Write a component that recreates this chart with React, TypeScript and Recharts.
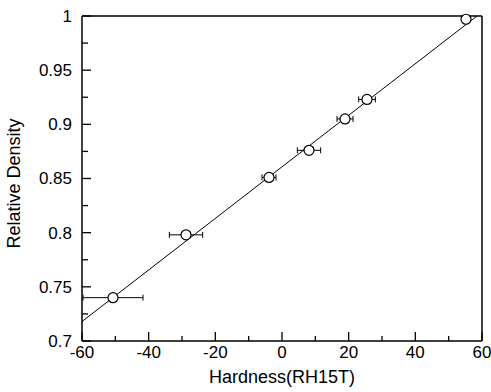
import React from 'react';
import { ComposedChart, Scatter, Line, XAxis, YAxis, ErrorBar, ReferenceLine, Label } from 'recharts';

// measured points (hardness RH15T vs relative density)
const hardness = [-50.7, -28.8, -3.9, 8.1, 18.9, 25.5, 55.2];
const density = [0.74, 0.798, 0.851, 0.876, 0.905, 0.923, 0.997];
const hardnessErr = [9, 5, 2.1, 3.5, 2.4, 2.5, 0];

// fitted straight line, end points
const fitX = [-60, 58.5];
const fitY = [0.718, 1.0];

const xTicks = [-60, -50, -40, -30, -20, -10, 0, 10, 20, 30, 40, 50, 60];
const yTicks = [0.7, 0.725, 0.75, 0.775, 0.8, 0.825, 0.85, 0.875, 0.9, 0.925, 0.95, 0.975, 1];

const points = hardness.map((x, i) => ({ x, y: density[i], err: hardnessErr[i] }));
const fit = fitX.map((x, i) => ({ x, y: fitY[i] }));

const FONT = '"Liberation Sans", Arial, sans-serif';

const XTick = (props: any) => {
  const { x, y, payload, index } = props;
  const axisY = y - 5;
  const major = index % 2 === 0;
  return (
    <g>
      <line x1={x} x2={x} y1={axisY} y2={axisY - (major ? 9 : 5)} stroke="#000" strokeWidth={1.3} />
      {major && (
        <text x={x} y={y} dy="0.71em" textAnchor="middle" fontSize={17} fontFamily={FONT} fill="#000">
          {String(payload.value)}
        </text>
      )}
    </g>
  );
};

const YTick = (props: any) => {
  const { x, y, payload, index } = props;
  const axisX = x + 10;
  const major = index % 2 === 0;
  return (
    <g>
      <line x1={axisX} x2={axisX + (major ? 9 : 6)} y1={y} y2={y} stroke="#000" strokeWidth={1.3} />
      {major && (
        <text x={x} y={y} dy="0.35em" textAnchor="end" fontSize={17} fontFamily={FONT} fill="#000">
          {String(payload.value)}
        </text>
      )}
    </g>
  );
};

const YTitle = (props: any) => {
  const vb = props.viewBox;
  const cx = 14;
  const cy = vb.y + vb.height / 2 + 5;
  return (
    <text x={cx} y={cy} transform={`rotate(-90 ${cx} ${cy})`} textAnchor="middle" dominantBaseline="central"
      fontSize={18} fontFamily={FONT} fill="#000">
      Relative Density
    </text>
  );
};

const Dot = (p: any) => <circle cx={p.cx} cy={p.cy} r={5} fill="#fff" stroke="#000" strokeWidth={1.2} />;

export default function App() {
  return (
    <div style={{ position: 'absolute', left: 0, top: 0, width: 491, height: 392, background: '#fff' }}>
      <ComposedChart width={491} height={392} margin={{ top: 16, right: 9, bottom: 0, left: 0 }}>
        <XAxis
          type="number"
          dataKey="x"
          domain={[-60, 60]}
          ticks={xTicks}
          interval={0}
          height={51}
          tickSize={0}
          tickMargin={5}
          tickLine={false}
          tick={<XTick />}
          axisLine={{ stroke: '#000', strokeWidth: 1.5 }}
        >
          <Label value="Hardness(RH15T)" position="insideBottom" offset={9} fontSize={18} fontFamily={FONT} fill="#000" />
        </XAxis>
        <YAxis
          type="number"
          dataKey="y"
          domain={[0.7, 1]}
          ticks={yTicks}
          interval={0}
          width={82}
          tickSize={0}
          tickMargin={10}
          tickLine={false}
          tick={<YTick />}
          axisLine={{ stroke: '#000', strokeWidth: 1.5 }}
        >
          <Label content={<YTitle />} />
        </YAxis>
        <ReferenceLine y={1} stroke="#000" strokeWidth={1.5} />
        <ReferenceLine x={60} stroke="#000" strokeWidth={1.5} />
        <Line data={fit} dataKey="y" stroke="#000" strokeWidth={1} dot={false} activeDot={false} isAnimationActive={false} />
        <Scatter data={points} dataKey="y" shape={<Dot />} isAnimationActive={false}>
          <ErrorBar dataKey="err" direction="x" width={3} stroke="#000" strokeWidth={1} />
        </Scatter>
      </ComposedChart>
    </div>
  );
}
